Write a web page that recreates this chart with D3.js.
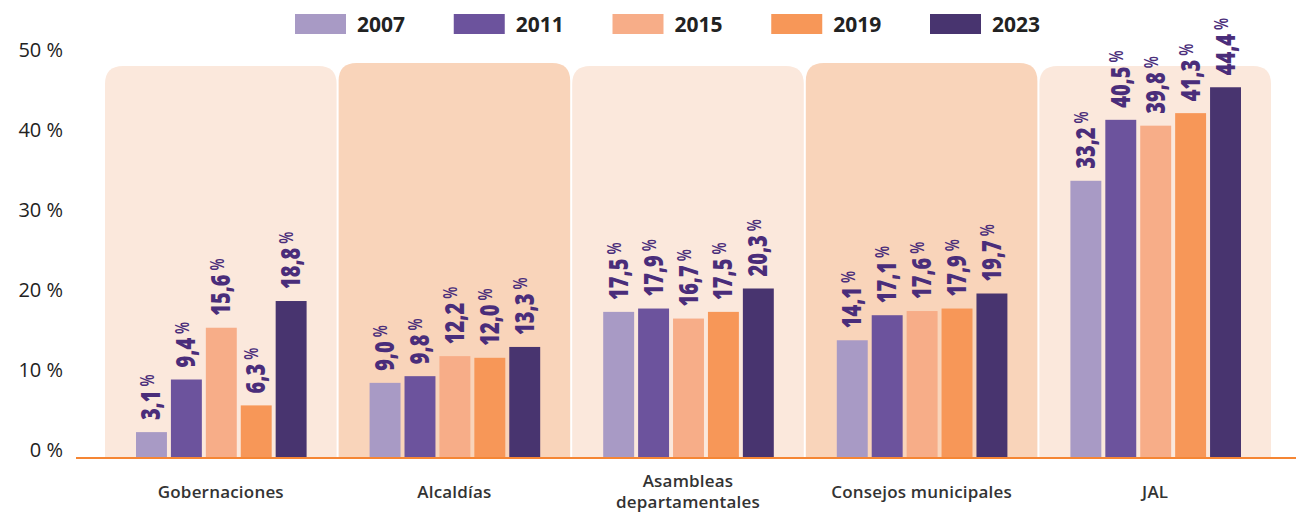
<!DOCTYPE html>
<html>
<head>
<meta charset="utf-8">
<script src="https://cdn.jsdelivr.net/npm/d3@7"></script>
<style>
  html, body { margin: 0; padding: 0; background: #fff; }
  svg { display: block; }
</style>
</head>
<body>
<svg id="chart"></svg>
<script>
// Participación de mujeres por corporación y año electoral
const categories = ['Gobernaciones', 'Alcaldías', 'Asambleas\ndepartamentales', 'Consejos municipales', 'JAL'];
const years = ['2007', '2011', '2015', '2019', '2023'];

const v2007 = [3.1, 9.0, 17.5, 14.1, 33.2];
const v2011 = [9.4, 9.8, 17.9, 17.1, 40.5];
const v2015 = [15.6, 12.2, 16.7, 17.6, 39.8];
const v2019 = [6.3, 12.0, 17.5, 17.9, 41.3];
const v2023 = [18.8, 13.3, 20.3, 19.7, 44.4];

const yTicks = [0, 10, 20, 30, 40, 50];

const seriesByYear = { '2007': v2007, '2011': v2011, '2015': v2015, '2019': v2019, '2023': v2023 };

const colors = {
  '2007': '#A89AC5',
  '2011': '#6C539D',
  '2015': '#F7AD88',
  '2019': '#F79758',
  '2023': '#48346F',
};
const panelColors = ['#FBE8DC', '#F9D4BA'];
const labelColor = '#4A2D7A';
const FONT = '"Open Sans", "Noto Sans", sans-serif';

const W = 1296, H = 512;
const baseY = 458;

const svg = d3.select('#chart').attr('width', W).attr('height', H);

// escalas
const x0 = d3.scaleBand().domain(categories).range([104, 1272]).padding(0);
const bw = x0.bandwidth();
const x1 = d3.scaleBand().domain(years).range([32, bw - 31]).paddingInner(0.114).paddingOuter(0);
const y = d3.scaleLinear().domain([0, 50]).range([baseY, baseY - 50 * 8.35]);
// las etiquetas del eje van un poco desplazadas respecto a las barras (como en el original)
const yAxisScale = d3.scaleLinear().domain([0, 50]).range([450, 50]);

// paneles de fondo (esquinas superiores redondeadas)
const r = 18;
categories.forEach((c, i) => {
  const xl = x0(c) + 1, xr = x0(c) + bw - 1;
  const top = i % 2 ? 63 : 66;
  svg.append('path')
    .attr('d', `M${xl},${baseY} L${xl},${top + r} Q${xl},${top} ${xl + r},${top} L${xr - r},${top} Q${xr},${top} ${xr},${top + r} L${xr},${baseY} Z`)
    .attr('fill', panelColors[i % 2]);
});

// eje Y (solo etiquetas)
const yAxis = svg.append('g')
  .attr('transform', 'translate(63,0)')
  .call(d3.axisLeft(yAxisScale).tickValues(yTicks).tickFormat(d => d + ' %').tickSize(0).tickPadding(0));
yAxis.select('.domain').remove();
yAxis.selectAll('text')
  .attr('font-family', FONT)
  .attr('font-size', 20)
  .attr('fill', '#222');

// barras y etiquetas
const fmt = v => d3.format('.1f')(v).replace('.', ',');

categories.forEach((c, ci) => {
  const g = svg.append('g').attr('transform', `translate(${x0(c)},0)`);
  years.forEach(yr => {
    const v = seriesByYear[yr][ci];
    const bx = x1(yr);
    g.append('rect')
      .attr('x', bx)
      .attr('y', y(v))
      .attr('width', x1.bandwidth())
      .attr('height', baseY - y(v))
      .attr('fill', colors[yr]);

    const cx = bx + x1.bandwidth() / 2;
    const t = g.append('text')
      .attr('transform', `translate(${cx + 9},${y(v) - 12}) rotate(-90) scale(1,1.35)`)
      .attr('font-family', FONT)
      .attr('fill', labelColor);
    t.append('tspan').attr('font-size', 20).attr('font-weight', 800).text(fmt(v));
    t.append('tspan').attr('font-size', 14).attr('font-weight', 600).attr('dx', 4).attr('dy', -5).text('%');
  });
});

// línea base
svg.append('line')
  .attr('x1', 76).attr('x2', W)
  .attr('y1', baseY).attr('y2', baseY)
  .attr('stroke', '#F58634').attr('stroke-width', 2);

// etiquetas de categoría
categories.forEach(c => {
  const lines = c.split('\n');
  const cx = x0(c) + bw / 2;
  const y0 = lines.length > 1 ? 487 : 498;
  lines.forEach((line, li) => {
    svg.append('text')
      .attr('x', cx)
      .attr('y', y0 + li * 21)
      .attr('text-anchor', 'middle')
      .attr('font-family', FONT)
      .attr('font-size', 17)
      .attr('font-weight', 600)
      .attr('letter-spacing', '0.2px')
      .attr('fill', '#333')
      .text(line);
  });
});

// leyenda
const lx = d3.scalePoint().domain(years).range([295, 930]);
const legend = svg.append('g');
years.forEach(yr => {
  legend.append('rect')
    .attr('x', lx(yr)).attr('y', 14)
    .attr('width', 51).attr('height', 20)
    .attr('fill', colors[yr]);
  legend.append('text')
    .attr('x', lx(yr) + 62).attr('y', 32)
    .attr('font-family', FONT)
    .attr('font-size', 21)
    .attr('font-weight', 700)
    .attr('fill', '#222')
    .text(yr);
});
</script>
</body>
</html>
